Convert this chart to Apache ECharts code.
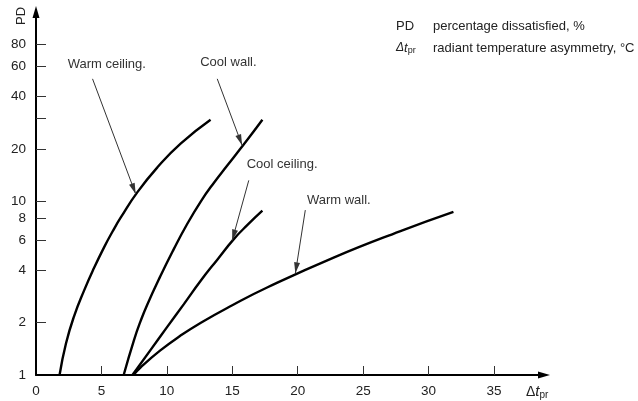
<!DOCTYPE html>
<html>
<head>
<meta charset="utf-8">
<script src="https://cdn.jsdelivr.net/npm/echarts@6/dist/echarts.min.js"></script>
<style>
  html, body { margin: 0; padding: 0; background: #fff; }
  #chart { width: 638px; height: 401px; }
</style>
</head>
<body>
<div id="chart"></div>
<script>
// Percentage dissatisfied (PD, %) against radiant temperature asymmetry (Δt_pr, °C)
const warmCeiling = [[1.8, 1], [2.29, 1.52], [2.92, 2.19], [3.68, 3.07], [4.44, 4.14], [5.21, 5.45], [5.85, 6.7], [6.48, 8.07], [7.75, 11.3], [9.28, 15.7], [11.05, 21.5], [13.34, 29.5]];
const coolWall = [[6.7, 1], [7.5, 1.6], [8.0, 2.05], [8.5, 2.54], [9.5, 3.7], [10.5, 5.25], [11.5, 7.28], [12.6, 10.0], [13.6, 12.8], [14.6, 16.0], [15.6, 20.0], [16.5, 24.5], [17.3, 29.5]];
const coolCeiling = [[7.37, 1], [8.8, 1.41], [10.0, 1.88], [11.3, 2.56], [12.6, 3.5], [13.9, 4.66], [15.1, 6.04], [16.2, 7.36], [17.3, 8.83]];
const warmWall = [[7.45, 1], [8.0, 1.107], [9.5, 1.385], [11.0, 1.675], [12.6, 2.0], [15.0, 2.52], [17.7, 3.2], [22.7, 4.73], [27.8, 6.72], [31.9, 8.7]];

// Axis ticks and labels
const xLabels = [0, 5, 10, 15, 20, 25, 30, 35];
const xTicks = [5, 10, 15, 20, 25, 30, 35];
const yLabels = [1, 2, 4, 6, 8, 10, 20, 40, 60, 80];
const yTicks = [2, 4, 6, 8, 10, 20, 30, 40, 60, 80];

// Curve call-outs: text anchor, arrow start, arrow tip (data coordinates)
const callouts = {
  warmCeiling: { text: 'Warm ceiling.', at: [2.42, 61], from: [4.32, 50.7], to: [7.62, 11.0] },
  coolWall: { text: 'Cool wall.', at: [12.55, 63], from: [13.85, 50.7], to: [15.75, 21.0] },
  coolCeiling: { text: 'Cool ceiling.', at: [16.1, 16.3], from: [16.26, 13.2], to: [14.99, 5.95] },
  warmWall: { text: 'Warm wall.', at: [20.7, 10.1], from: [20.58, 8.9], to: [19.82, 3.85] }
};

const FONT = '"Liberation Sans", Arial, Helvetica, sans-serif';
const TEXT = '#222';

function curve(name, data, c) {
  return {
    name: name,
    type: 'line',
    data: data,
    smooth: true,
    showSymbol: false,
    symbol: 'none',
    silent: true,
    lineStyle: { color: '#000', width: 2.4 },
    markLine: {
      silent: true,
      animation: false,
      label: { show: false },
      lineStyle: { color: '#333', width: 1, type: 'solid' },
      symbol: ['none', 'triangle'],
      symbolSize: [6, 11],
      data: [[
        { coord: c.from, symbol: 'none' },
        { coord: c.to, symbol: 'triangle', symbolSize: [6, 11], symbolOffset: [0, 5.5] }
      ]]
    },
    markPoint: {
      silent: true,
      animation: false,
      symbol: 'circle',
      symbolSize: 0,
      label: {
        show: true,
        position: 'right',
        distance: 0,
        formatter: c.text,
        fontSize: 13,
        fontFamily: FONT,
        color: '#333'
      },
      data: [{ coord: c.at, name: c.text }]
    }
  };
}

const chart = echarts.init(document.getElementById('chart'), null, { renderer: 'canvas' });
chart.setOption({
  animation: false,
  backgroundColor: '#fff',
  grid: { left: 36, right: 94, top: 12, bottom: 26, containLabel: false },
  xAxis: {
    type: 'value',
    min: 0,
    max: 38.82,
    axisLine: {
      show: true,
      lineStyle: { color: '#000', width: 2 },
      symbol: ['none', 'triangle'],
      symbolSize: [7, 12]
    },
    axisTick: { show: true, inside: true, length: 9, customValues: xTicks, lineStyle: { color: '#333', width: 1 } },
    axisLabel: { customValues: xLabels, margin: 9, fontSize: 13.5, fontFamily: FONT, color: TEXT },
    splitLine: { show: false }
  },
  yAxis: {
    type: 'log',
    logBase: 10,
    min: 1,
    max: 123,
    axisLine: {
      show: true,
      lineStyle: { color: '#000', width: 2 },
      symbol: ['none', 'triangle'],
      symbolSize: [7, 12]
    },
    axisTick: { show: true, inside: true, length: 10, customValues: yTicks, lineStyle: { color: '#333', width: 1 } },
    axisLabel: { customValues: yLabels, margin: 10, fontSize: 13.5, fontFamily: FONT, color: TEXT },
    splitLine: { show: false },
    minorTick: { show: false }
  },
  series: [
    curve('Warm ceiling', warmCeiling, callouts.warmCeiling),
    curve('Cool wall', coolWall, callouts.coolWall),
    curve('Cool ceiling', coolCeiling, callouts.coolCeiling),
    curve('Warm wall', warmWall, callouts.warmWall)
  ],
  graphic: [
    // y-axis title
    { type: 'text', x: 21.5, y: 16, rotation: Math.PI / 2,
      style: { text: 'PD', fontSize: 13, fontFamily: FONT, fill: TEXT, align: 'center', verticalAlign: 'middle' } },
    // x-axis title
    { type: 'text', x: 526, y: 392,
      style: {
        text: '{d|Δ}{t|t}{s|pr}',
        verticalAlign: 'middle',
        rich: {
          d: { fontSize: 14, fontFamily: FONT, fill: TEXT },
          t: { fontSize: 15, fontFamily: FONT, fontStyle: 'italic', fill: TEXT },
          s: { fontSize: 10, fontFamily: FONT, fill: TEXT, padding: [7, 0, 0, 0] }
        }
      } },
    // key
    { type: 'text', x: 396, y: 26,
      style: { text: 'PD', fontSize: 13, fontFamily: FONT, fill: TEXT, verticalAlign: 'middle' } },
    { type: 'text', x: 433, y: 26,
      style: { text: 'percentage dissatisfied, %', fontSize: 13, fontFamily: FONT, fill: TEXT, verticalAlign: 'middle' } },
    { type: 'text', x: 396, y: 48,
      style: {
        text: '{d|Δ}{t|t}{s|pr}',
        verticalAlign: 'middle',
        rich: {
          d: { fontSize: 12, fontFamily: FONT, fontStyle: 'italic', fill: TEXT },
          t: { fontSize: 13, fontFamily: FONT, fontStyle: 'italic', fill: TEXT },
          s: { fontSize: 9, fontFamily: FONT, fill: TEXT, padding: [6, 0, 0, 0] }
        }
      } },
    { type: 'text', x: 433, y: 48,
      style: { text: 'radiant temperature asymmetry, °C', fontSize: 13, fontFamily: FONT, fill: TEXT, verticalAlign: 'middle' } }
  ]
});
</script>
</body>
</html>
